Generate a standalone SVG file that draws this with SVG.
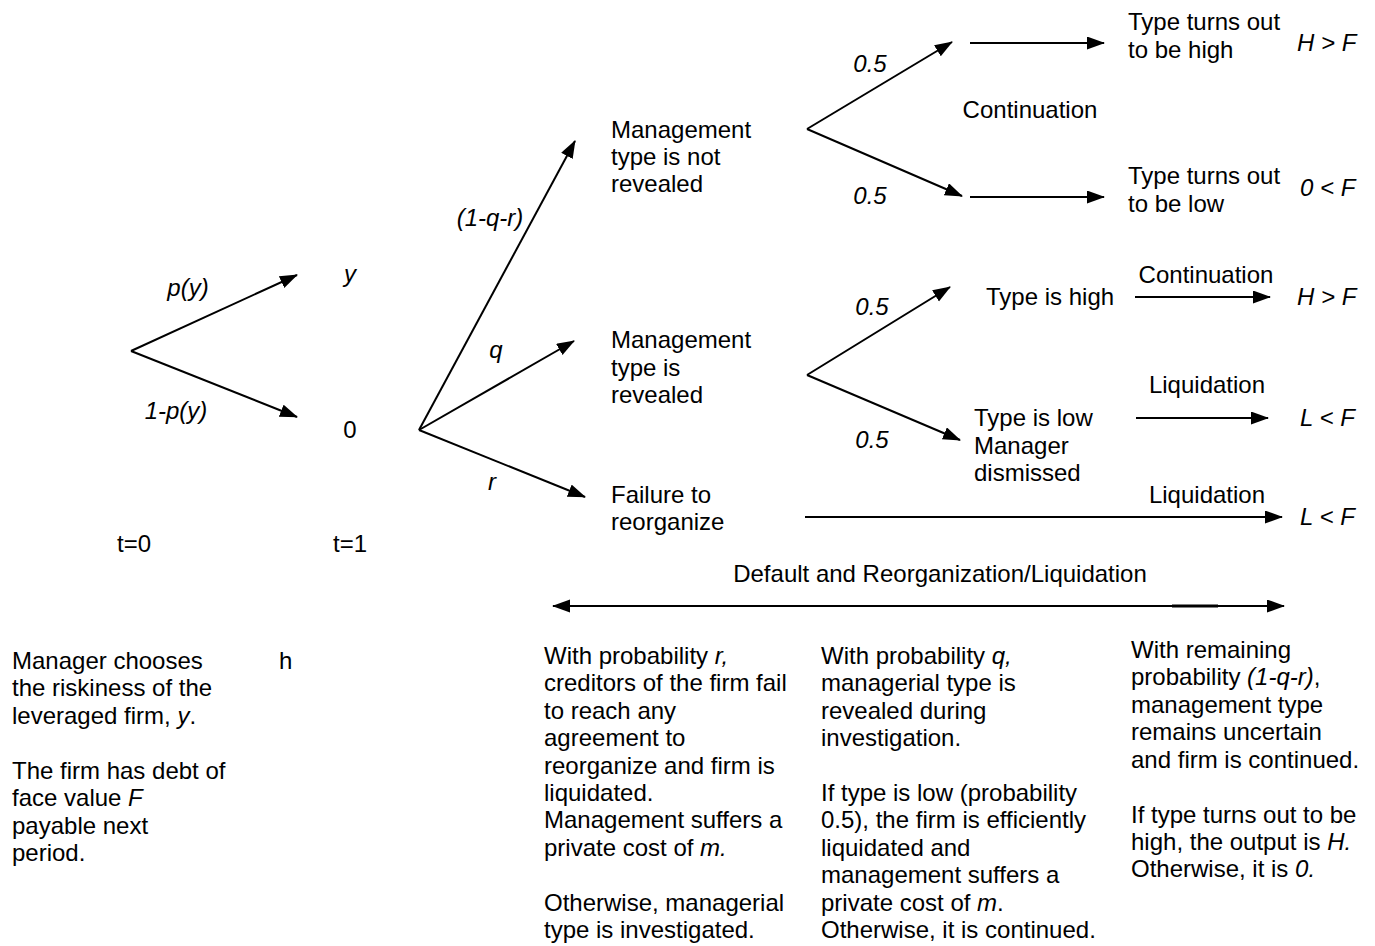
<svg xmlns="http://www.w3.org/2000/svg" width="1375" height="946" viewBox="0 0 1375 946">
<style>
text{font-family:"Liberation Sans",Arial,sans-serif;font-size:24px;fill:#000}
.i{font-style:italic}
.m{text-anchor:middle}
.c line{stroke:#000;stroke-width:2;marker-end:url(#ah)}
</style>
<defs>
<marker id="ah" markerUnits="userSpaceOnUse" markerWidth="20" markerHeight="14" refX="17" refY="6.5" orient="auto-start-reverse">
<path d="M0,0 L18,6.5 L0,13 z" fill="#000"/>
</marker>
</defs>
<rect width="1375" height="946" fill="#fff"/>
<g id="connectors" class="c">
<line x1="131" y1="351" x2="297" y2="275"/>
<line x1="131" y1="351" x2="297" y2="417"/>
<line x1="419" y1="430" x2="575" y2="141"/>
<line x1="419" y1="430" x2="574" y2="341"/>
<line x1="419" y1="430" x2="585" y2="497"/>
<line x1="807" y1="129" x2="952" y2="42"/>
<line x1="807" y1="129" x2="962" y2="196"/>
<line x1="970" y1="43" x2="1104" y2="43"/>
<line x1="970" y1="197" x2="1104" y2="197"/>
<line x1="807" y1="375" x2="950" y2="287"/>
<line x1="807" y1="375" x2="960" y2="440"/>
<line x1="1135" y1="297" x2="1270" y2="297"/>
<line x1="1136" y1="418" x2="1268" y2="418"/>
<line x1="805" y1="517" x2="1282" y2="517"/>
<line x1="553" y1="606" x2="1284" y2="606" style="marker-start:url(#ah)"/>
<line x1="1172" y1="606" x2="1218" y2="606" style="marker-end:none;stroke-width:3"/>
</g>
<g id="labels">
<text class="i m" x="188" y="296">p(y)</text>
<text class="i m" x="176" y="419">1-p(y)</text>
<text class="i m" x="350" y="282">y</text>
<text class="m" x="350" y="438">0</text>
<text class="i m" x="490" y="226">(1-q-r)</text>
<text class="i m" x="496" y="358">q</text>
<text class="i m" x="492" y="490">r</text>
<text class="i m" x="870" y="72">0.5</text>
<text class="i m" x="870" y="204">0.5</text>
<text class="i m" x="872" y="315">0.5</text>
<text class="i m" x="872" y="448">0.5</text>
<text class="m" x="134" y="552">t=0</text>
<text class="m" x="350" y="552">t=1</text>
<text class="m" x="1030" y="118">Continuation</text>
<text class="m" x="1206" y="283">Continuation</text>
<text class="m" x="1207" y="393">Liquidation</text>
<text class="m" x="1207" y="503">Liquidation</text>
<text class="m" x="940" y="582">Default and Reorganization/Liquidation</text>
</g>
<g id="node-t0">
<text x="12" y="669">Manager chooses</text>
<text x="12" y="696">the riskiness of the</text>
<text x="12" y="724">leveraged firm, <tspan class="i">y</tspan>.</text>
<text x="12" y="779">The firm has debt of</text>
<text x="12" y="806">face value <tspan class="i">F</tspan></text>
<text x="12" y="834">payable next</text>
<text x="12" y="861">period.</text>
</g>
<g id="node-h"><text x="279" y="669">h</text></g>
<g id="node-notrevealed">
<text x="611" y="138">Management</text>
<text x="611" y="165">type is not</text>
<text x="611" y="192">revealed</text>
</g>
<g id="node-revealed">
<text x="611" y="348">Management</text>
<text x="611" y="376">type is</text>
<text x="611" y="403">revealed</text>
</g>
<g id="node-failure">
<text x="611" y="503">Failure to</text>
<text x="611" y="530">reorganize</text>
</g>
<g id="node-high-out">
<text x="1128" y="30">Type turns out</text>
<text x="1128" y="58">to be high</text>
<text class="i" x="1297" y="51">H &gt; F</text>
</g>
<g id="node-low-out">
<text x="1128" y="184">Type turns out</text>
<text x="1128" y="212">to be low</text>
<text class="i" x="1300" y="196">0 &lt; F</text>
</g>
<g id="node-typehigh">
<text x="986" y="305">Type is high</text>
<text class="i" x="1297" y="305">H &gt; F</text>
</g>
<g id="node-typelow">
<text x="974" y="426">Type is low</text>
<text x="974" y="454">Manager</text>
<text x="974" y="481">dismissed</text>
<text class="i" x="1300" y="426">L &lt; F</text>
</g>
<g id="node-liq">
<text class="i" x="1300" y="525">L &lt; F</text>
</g>
<g id="note-r">
<text x="544" y="664">With probability <tspan class="i">r,</tspan></text>
<text x="544" y="691">creditors of the firm fail</text>
<text x="544" y="719">to reach any</text>
<text x="544" y="746">agreement to</text>
<text x="544" y="774">reorganize and firm is</text>
<text x="544" y="801">liquidated.</text>
<text x="544" y="828">Management suffers a</text>
<text x="544" y="856">private cost of <tspan class="i">m.</tspan></text>
<text x="544" y="911">Otherwise, managerial</text>
<text x="544" y="938">type is investigated.</text>
</g>
<g id="note-q">
<text x="821" y="664">With probability <tspan class="i">q,</tspan></text>
<text x="821" y="691">managerial type is</text>
<text x="821" y="719">revealed during</text>
<text x="821" y="746">investigation.</text>
<text x="821" y="801">If type is low (probability</text>
<text x="821" y="828">0.5), the firm is efficiently</text>
<text x="821" y="856">liquidated and</text>
<text x="821" y="883">management suffers a</text>
<text x="821" y="911">private cost of <tspan class="i">m</tspan>.</text>
<text x="821" y="938">Otherwise, it is continued.</text>
</g>
<g id="note-1qr">
<text x="1131" y="658">With remaining</text>
<text x="1131" y="685">probability <tspan class="i">(1-q-r)</tspan>,</text>
<text x="1131" y="713">management type</text>
<text x="1131" y="740">remains uncertain</text>
<text x="1131" y="768">and firm is continued.</text>
<text x="1131" y="823">If type turns out to be</text>
<text x="1131" y="850">high, the output is <tspan class="i">H.</tspan></text>
<text x="1131" y="877">Otherwise, it is <tspan class="i">0.</tspan></text>
</g>
</svg>
